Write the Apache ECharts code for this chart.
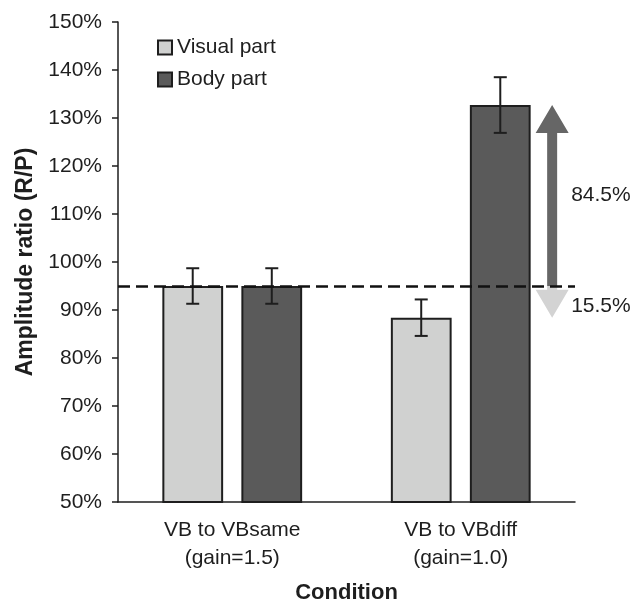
<!DOCTYPE html>
<html>
<head>
<meta charset="utf-8">
<script src="https://cdn.jsdelivr.net/npm/echarts@6/dist/echarts.min.js"></script>
<style>
  html, body { margin: 0; padding: 0; background: #fff; }
  #Chart { width: 644px; height: 602px; }
</style>
</head>
<body>
<div id="Chart"></div>
<script>
const categories = [ "VB to VBsame\n(gain=1.5)", "VB to VBdiff\n(gain=1.0)" ]
const visualPart = [ 95.0, 88.4 ]
const visualErr = [ 3.7, 3.8 ]
const bodyPart = [ 95.0, 132.7 ]
const bodyErr = [ 3.7, 5.8 ]
const referenceLevel = 95
// arrows drawn next to the second group: [category, from, to, label, colour]
const arrows = [
  [ 1, 95, 132.7, "84.5%", "#666666" ],
  [ 1, 95, 88.4, "15.5%", "#d3d3d3" ]
]

const font = "\"Liberation Sans\", Arial, Helvetica, sans-serif"
const ink = "#1e1e1e"

const chart = echarts.init(document.getElementById("Chart"), null, { renderer: "canvas" })

// error bar with caps, shifted inside the category band
const errorBars = (offset) => (params, api) => {
  const x = api.value(0)
  const mean = api.value(1)
  const err = api.value(2)
  const band = api.size([ 1, 0 ])[0]
  const top = api.coord([ x, mean + err ])
  const bot = api.coord([ x, mean - err ])
  const cx = top[0] + offset * band
  const cap = 6.5
  const style = { stroke: ink, lineWidth: 2 }
  return {
    type: "group",
    children: [
      { type: "line", shape: { x1: cx, y1: top[1], x2: cx, y2: bot[1] }, style },
      { type: "line", shape: { x1: cx - cap, y1: top[1], x2: cx + cap, y2: top[1] }, style },
      { type: "line", shape: { x1: cx - cap, y1: bot[1], x2: cx + cap, y2: bot[1] }, style }
    ]
  }
}

const arrowRender = (params, api) => {
  const x = api.value(0)
  const band = api.size([ 1, 0 ])[0]
  const from = api.coord([ x, api.value(1) ])
  const to = api.coord([ x, api.value(2) ])
  const cx = from[0] + 0.4 * band
  const dir = to[1] < from[1] ? -1 : 1
  const len = Math.abs(to[1] - from[1])
  const headH = Math.min(28, len)
  const neck = to[1] - dir * headH
  const sw = 5
  const hw = 16.5
  const color = arrows[params.dataIndex][4]
  const points = [
    [ cx - sw, from[1] ], [ cx - sw, neck ], [ cx - hw, neck ], [ cx, to[1] ],
    [ cx + hw, neck ], [ cx + sw, neck ], [ cx + sw, from[1] ]
  ]
  return {
    type: "group",
    children: [
      { type: "polygon", shape: { points }, style: { fill: color } },
      {
        type: "text",
        style: {
          text: arrows[params.dataIndex][3],
          x: cx + 19,
          y: (from[1] + to[1]) / 2 + (dir > 0 ? 4 : 0),
          fill: ink,
          font: "21px " + font,
          verticalAlign: "middle",
          align: "left"
        }
      }
    ]
  }
}

const option = {
  animation: false,
  textStyle: { fontFamily: font },
  grid: { left: 118, right: 69, top: 22, bottom: 100, outerBoundsMode: "none", containLabel: false },
  legend: {
    orient: "vertical",
    left: 152,
    top: 32,
    icon: "rect",
    itemWidth: 14,
    itemHeight: 14,
    itemGap: 11,
    data: [ "Visual part", "Body part" ],
    textStyle: { fontSize: 21, color: ink, fontFamily: font }
  },
  xAxis: {
    type: "category",
    data: categories,
    name: "Condition",
    nameLocation: "middle",
    nameGap: 80,
    nameTextStyle: { fontSize: 22, fontWeight: "bold", color: ink, fontFamily: font },
    axisLine: { lineStyle: { color: ink, width: 1.5 } },
    axisTick: { length: 6, lineStyle: { color: ink, width: 1.5 } },
    axisLabel: { fontSize: 21, color: ink, lineHeight: 28, margin: 14, fontFamily: font }
  },
  yAxis: {
    type: "value",
    min: 50,
    max: 150,
    interval: 10,
    name: "Amplitude ratio (R/P)",
    nameLocation: "middle",
    nameGap: 76,
    nameTextStyle: { fontSize: 23, fontWeight: "bold", color: ink, fontFamily: font },
    axisLine: { show: true, lineStyle: { color: ink, width: 1.5 } },
    axisTick: { show: true, length: 6, lineStyle: { color: ink, width: 1.5 } },
    axisLabel: { formatter: "{value}%", fontSize: 21, color: ink, margin: 16, fontFamily: font },
    splitLine: { show: false }
  },
  series: [
    {
      name: "Visual part",
      type: "bar",
      data: visualPart,
      barWidth: "26.6%",
      barGap: "30%",
      itemStyle: { color: "#d0d1d0", borderColor: ink, borderWidth: 2 },
      markLine: {
        silent: true,
        symbol: "none",
        label: { show: false },
        lineStyle: { type: [ 12, 6 ], width: 2.5, color: "#111" },
        data: [ { yAxis: referenceLevel } ],
        z: 10
      }
    },
    {
      name: "Body part",
      type: "bar",
      data: bodyPart,
      barWidth: "26.6%",
      barGap: "30%",
      itemStyle: { color: "#5a5a5a", borderColor: ink, borderWidth: 2 }
    },
    {
      type: "custom",
      renderItem: errorBars(-0.173),
      data: visualPart.map((v, i) => [ i, v, visualErr[i] ]),
      z: 5
    },
    {
      type: "custom",
      renderItem: errorBars(0.173),
      data: bodyPart.map((v, i) => [ i, v, bodyErr[i] ]),
      z: 5
    },
    {
      type: "custom",
      renderItem: arrowRender,
      data: arrows.map(a => [ a[0], a[1], a[2] ]),
      z: 3
    }
  ]
}
chart.setOption(option)
</script>
</body>
</html>
